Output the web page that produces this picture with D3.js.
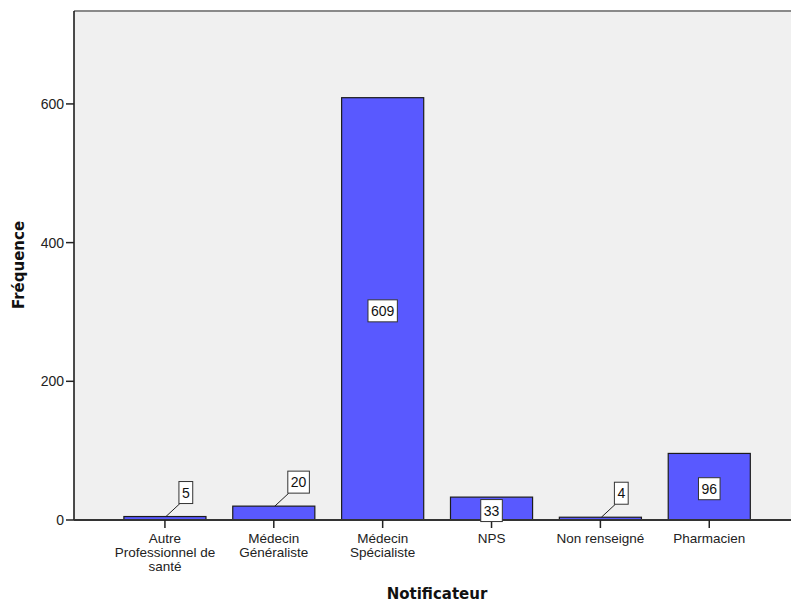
<!DOCTYPE html>
<html><head><meta charset="utf-8">
<script src="https://cdn.jsdelivr.net/npm/d3@7"></script>
<style>body{margin:0;background:#fff}svg{display:block}</style>
</head><body>
<svg id="c" width="791" height="604"></svg>
<script>
const categories = ["Autre Professionnel de santé","Médecin Généraliste","Médecin Spécialiste","NPS","Non renseigné","Pharmacien"];
const categoryLines = [["Autre","Professionnel de","santé"],["Médecin","Généraliste"],["Médecin","Spécialiste"],["NPS"],["Non renseigné"],["Pharmacien"]];
const frequencies = [5,20,609,33,4,96];
const yTicks = [0,200,400,600];
const yTitle = "Fréquence";
const xTitle = "Notificateur";

const svg = d3.select("#c");
const plot = {left:74, right:791, top:11, bottom:520};
const font = "'Liberation Sans', Arial, sans-serif";

const y = d3.scaleLinear().domain([0,734]).range([plot.bottom, plot.top]);
const x = d3.scaleBand().domain(categories).range([110.5,763.7]).paddingInner(0.246).paddingOuter(0.123);

// background
svg.append("rect").attr("x",plot.left).attr("y",plot.top).attr("width",plot.right-plot.left).attr("height",plot.bottom-plot.top).attr("fill","#f0f0f0");
svg.append("line").attr("x1",plot.left).attr("x2",plot.right).attr("y1",plot.top).attr("y2",plot.top).attr("stroke","#8a8a8a").attr("stroke-width",2);

// bars
svg.selectAll("rect.bar").data(frequencies).join("rect").attr("class","bar")
  .attr("x",(d,i)=>x(categories[i])).attr("width",x.bandwidth())
  .attr("y",d=>y(d)).attr("height",d=>y(0)-y(d))
  .attr("fill","#5959ff").attr("stroke","#1c1c1c").attr("stroke-width",1.2);

// axes
svg.append("line").attr("x1",plot.left).attr("x2",plot.left).attr("y1",plot.top).attr("y2",plot.bottom).attr("stroke","#111").attr("stroke-width",1.5);
svg.append("line").attr("x1",plot.left).attr("x2",plot.right).attr("y1",plot.bottom).attr("y2",plot.bottom).attr("stroke","#333").attr("stroke-width",1.8);

const yt = svg.append("g");
yTicks.forEach(t=>{
  yt.append("line").attr("x1",plot.left-8).attr("x2",plot.left).attr("y1",y(t)).attr("y2",y(t)).attr("stroke","#222").attr("stroke-width",1.5);
  yt.append("text").attr("x",plot.left-10).attr("y",y(t)).attr("dy","0.36em").attr("text-anchor","end")
    .attr("font-family",font).attr("font-size",14).attr("fill","#222").text(t);
});

categories.forEach((c,i)=>{
  const cx = x(c)+x.bandwidth()/2;
  svg.append("line").attr("x1",cx).attr("x2",cx).attr("y1",plot.bottom).attr("y2",plot.bottom+8).attr("stroke","#222").attr("stroke-width",1.5);
  const t = svg.append("text").attr("text-anchor","middle").attr("font-family",font).attr("font-size",13.5).attr("fill","#222");
  categoryLines[i].forEach((ln,j)=>{
    t.append("tspan").attr("x",cx).attr("y",543+j*14).text(ln);
  });
});

// value labels
frequencies.forEach((v,i)=>{
  const c = categories[i];
  const cx = x(c)+x.bandwidth()/2;
  const top = y(v);
  const g = svg.append("g");
  const txt = g.append("text").attr("font-family",font).attr("font-size",14).attr("fill","#111").attr("text-anchor","middle").text(v);
  const tw = txt.node().getComputedTextLength();
  const bw = tw+6, bh = 22;
  let bx, by;
  if (y(0)-top >= 20) {
    const cy = (top+y(0))/2 + 2;
    bx = cx - bw/2; by = cy - bh/2;
  } else {
    bx = cx + 14; by = top - 13 - bh;
    g.insert("line","text").attr("x1",bx+1).attr("y1",by+bh).attr("x2",cx+1).attr("y2",top).attr("stroke","#222").attr("stroke-width",1);
  }
  g.insert("rect","text").attr("x",bx).attr("y",by).attr("width",bw).attr("height",bh).attr("fill","#fff").attr("stroke","#333").attr("stroke-width",1);
  txt.attr("x",bx+bw/2).attr("y",by+bh/2).attr("dy","0.36em");
});

// titles
svg.append("text").attr("transform","translate(24,265) rotate(-90)").attr("text-anchor","middle")
  .attr("font-family","'DejaVu Sans', Verdana, sans-serif").attr("font-weight","bold").attr("font-size",15).attr("fill","#111").text(yTitle);
svg.append("text").attr("x",437).attr("y",599).attr("text-anchor","middle")
  .attr("font-family","'DejaVu Sans', Verdana, sans-serif").attr("font-weight","bold").attr("font-size",15).attr("fill","#111").text(xTitle);
</script>
</body></html>
